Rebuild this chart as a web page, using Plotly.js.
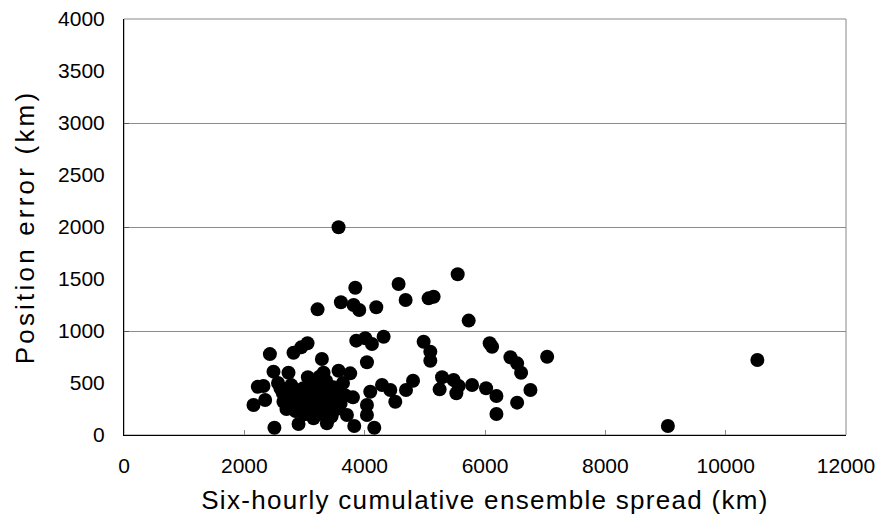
<!DOCTYPE html>
<html>
<head>
<meta charset="utf-8">
<script src="https://cdn.plot.ly/plotly-3.0.1.min.js"></script>
<style>
html,body{margin:0;padding:0;background:#fff;}
#chart{width:877px;height:529px;}
#chart .xtitle{letter-spacing:1.3px;}
#chart .ytitle{letter-spacing:3.2px;}
</style>
</head>
<body>
<div id="chart"></div>
<script>
const spread = [
  2425, 2817, 2945, 3050, 3860, 4010, 4121, 4315, 4980, 5091, 5091, 3289, 4038,
  2485, 2734, 3317, 3566, 3760, 3056, 2224, 2318, 2152, 2346, 2500, 2901, 3372,
  3827, 4160, 4038, 4038, 3705, 3805, 4093, 4288, 4426, 4509, 4687, 4804, 5729,
  6078, 6118, 6423, 6534, 6600, 7033, 5286, 5246, 5479, 5562, 5524, 5785, 6018,
  6190, 6190, 6534, 6755, 3566, 3844, 4564, 5546, 3217, 3605, 3816, 3910, 4193,
  4681, 5063, 5146, 10527, 9040, 3150,
  2600, 2650, 2700, 2720, 2780, 2800, 2850, 2880, 2920, 2950, 2980, 3000, 3030,
  3060, 3100, 3120, 3150, 3180, 3200, 3230, 3260, 3300, 3330, 3360, 3400, 3420,
  3450, 3480, 3500, 3530, 3560, 3600, 3640, 3680, 2560, 2640, 3150, 3400, 3250
];
const posError = [
  778, 791, 843, 882, 907, 930, 875, 945, 897, 801, 714, 731, 699,
  609, 599, 599, 618, 593, 555, 464, 471, 288, 337, 70, 106, 112,
  87, 70, 288, 192, 192, 362, 416, 481, 433, 320, 433, 522, 1100,
  882, 849, 747, 689, 599, 753, 555, 439, 529, 471, 401, 481, 449,
  375, 202, 311, 433, 1997, 1416, 1452, 1545, 1208, 1276, 1250, 1202, 1228,
  1298, 1314, 1330, 721, 87, 522,
  450, 320, 250, 380, 480, 290, 230, 400, 330, 250, 450, 200, 380,
  300, 470, 240, 350, 410, 280, 200, 450, 330, 250, 520, 400, 300,
  180, 460, 350, 250, 420, 300, 500, 380, 500, 400, 160, 160, 560
];
const xTicks = [0, 2000, 4000, 6000, 8000, 10000, 12000];
const yTicks = [0, 500, 1000, 1500, 2000, 2500, 3000, 3500, 4000];

const fontFam = 'Liberation Sans, Arial, sans-serif';
const data = [
  {type: 'scatter', mode: 'markers', x: spread, y: posError,
   marker: {color: '#000', size: 14, line: {width: 0}}, hoverinfo: 'x+y'},
  {type: 'scatter', mode: 'markers', x: [0], y: [0], yaxis: 'y2',
   marker: {opacity: 0}, hoverinfo: 'skip', showlegend: false}
];
const layout = {
  width: 877, height: 529,
  margin: {l: 124, r: 31, t: 19, b: 94},
  paper_bgcolor: '#fff', plot_bgcolor: '#fff',
  showlegend: false,
  font: {family: fontFam, color: '#000', size: 21},
  xaxis: {
    range: [0, 12000], tickvals: xTicks, ticktext: xTicks.map(String),
    showgrid: false, zeroline: false, showline: true, linecolor: '#000', linewidth: 1,
    ticks: 'inside', ticklen: 5, tickcolor: '#888', ticklabelstandoff: 12,
    tickfont: {size: 21, family: fontFam},
    title: {text: 'Six-hourly cumulative ensemble spread (km)', font: {size: 26, family: fontFam}, standoff: 14}
  },
  yaxis: {
    range: [0, 4000], tickvals: yTicks, ticktext: yTicks.map(String),
    showgrid: false, zeroline: false, showline: true, linecolor: '#000', linewidth: 1,
    ticks: '', ticklabelstandoff: 14, tickfont: {size: 21, family: fontFam},
    title: {text: 'Position error (km)', font: {size: 26, family: fontFam}, standoff: 15}
  },
  yaxis2: {
    range: [0, 4000], overlaying: 'y', side: 'left', dtick: 1000,
    showgrid: true, gridcolor: '#8c8c8c', gridwidth: 1, showticklabels: false,
    ticks: 'inside', ticklen: 5, tickcolor: '#555', zeroline: false, showline: false
  },
  shapes: [
    {type: 'rect', xref: 'paper', yref: 'paper', x0: 0, x1: 1, y0: 0, y1: 1,
     line: {color: '#888', width: 1}, fillcolor: 'rgba(0,0,0,0)', layer: 'below'}
  ]
};
Plotly.newPlot('chart', data, layout, {displayModeBar: false, staticPlot: true});
</script>
</body>
</html>
